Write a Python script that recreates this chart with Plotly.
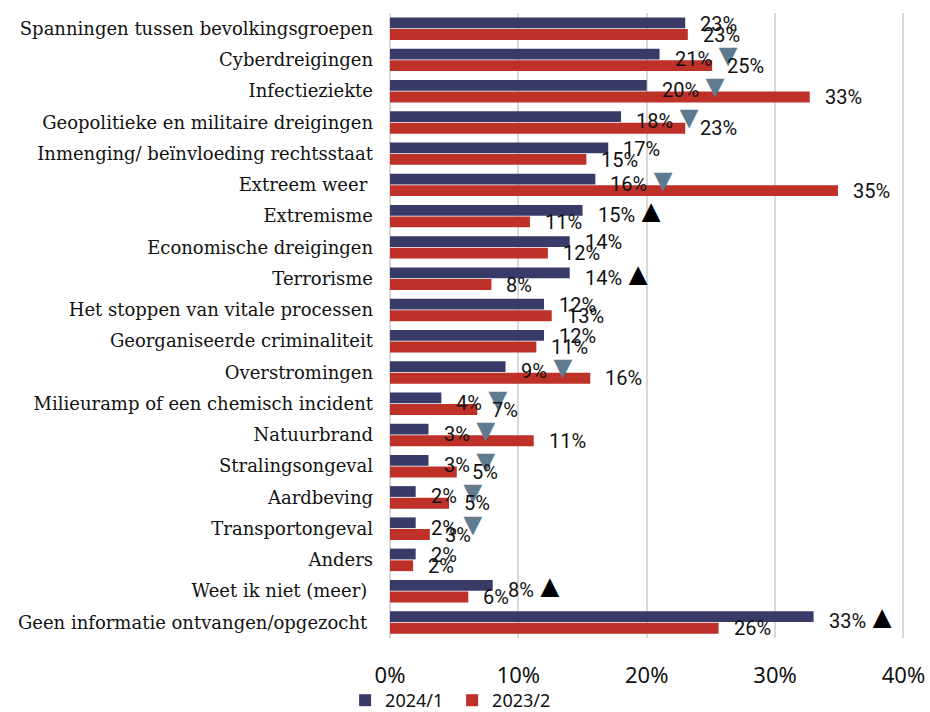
import plotly.graph_objects as go

categories = [
    "Spanningen tussen bevolkingsgroepen",
    "Cyberdreigingen",
    "Infectieziekte",
    "Geopolitieke en militaire dreigingen",
    "Inmenging/ beïnvloeding rechtsstaat",
    "Extreem weer ",
    "Extremisme",
    "Economische dreigingen",
    "Terrorisme",
    "Het stoppen van vitale processen",
    "Georganiseerde criminaliteit",
    "Overstromingen",
    "Milieuramp of een chemisch incident",
    "Natuurbrand",
    "Stralingsongeval",
    "Aardbeving",
    "Transportongeval",
    "Anders",
    "Weet ik niet (meer) ",
    "Geen informatie ontvangen/opgezocht ",
]
values_2024_1 = [23, 21, 20, 18, 17, 16, 15, 14, 14, 12, 12, 9, 4, 3, 3, 2, 2, 2, 8, 33]
values_2023_2 = [23.2, 25.1, 32.7, 23.0, 15.3, 34.9, 10.9, 12.3, 7.9, 12.6, 11.4, 15.6,
                 6.8, 11.2, 5.2, 4.6, 3.1, 1.8, 6.1, 25.6]
# trend of 2024/1 vs 2023/2: "down", "up" or ""
trend = ["", "down", "down", "down", "", "down", "up", "", "up", "", "",
         "down", "down", "down", "down", "down", "down", "", "up", "up"]
x_ticks = [0, 10, 20, 30, 40]

NAVY = "#383B68"
RED = "#BE3128"
STEEL = "#5F7B90"

idx = list(range(len(categories)))

fig = go.Figure()
fig.add_bar(y=idx, x=values_2024_1, orientation="h", name="2024/1",
            marker=dict(color=NAVY, line=dict(width=0)))
fig.add_bar(y=idx, x=values_2023_2, orientation="h", name="2023/2",
            marker=dict(color=RED, line=dict(width=0)))

annotations = []
for i, (a, b, t) in enumerate(zip(values_2024_1, values_2023_2, trend)):
    txt = f"{round(a)}%"
    if t == "down":
        txt += f"<span style='color:{STEEL};font-size:32px'>▼</span>"
    elif t == "up":
        txt += "<span style='color:#000000;font-size:32px'>▲</span>"
    annotations.append(dict(x=a, y=i, xref="x", yref="y", text=txt, showarrow=False,
                            xanchor="left", yanchor="middle", xshift=13, yshift=5,
                            font=dict(family="Roboto", size=20, color="#111111")))
    annotations.append(dict(x=b, y=i, xref="x", yref="y", text=f"{round(b)}%", showarrow=False,
                            xanchor="left", yanchor="middle", xshift=13, yshift=-6,
                            font=dict(family="Roboto", size=20, color="#111111")))

fig.update_layout(
    width=930, height=712,
    margin=dict(l=390, r=24, t=13, b=74, autoexpand=False),
    paper_bgcolor="white", plot_bgcolor="white",
    barmode="group", bargap=0.25, bargroupgap=0.08,
    showlegend=True,
    legend=dict(orientation="h", x=-0.087, xanchor="left", y=-0.1, yanchor="middle",
                font=dict(family="Noto Sans", size=18, color="#111111"),
                traceorder="normal", entrywidth=62, bgcolor="rgba(0,0,0,0)"),
    annotations=annotations,
)
fig.update_xaxes(range=[0, 40.2], tickvals=x_ticks, ticktext=[f"{v}%" for v in x_ticks],
                 showgrid=True, gridcolor="#D9D9D9", gridwidth=2,
                 zeroline=True, zerolinecolor="#D9D9D9", zerolinewidth=2,
                 showline=False, ticks="", ticklabelstandoff=22, automargin=False,
                 tickfont=dict(family="Noto Sans", size=22, color="#111111"), fixedrange=True)
fig.update_yaxes(range=[19.5, -0.5], tickvals=idx, ticktext=categories, showgrid=False,
                 zeroline=False, ticks="", ticklabelstandoff=16, automargin=False,
                 tickfont=dict(family="DejaVu Serif", size=18, color="#111111"), fixedrange=True)

fig.write_html("out.html", config={"displayModeBar": False},
               post_script="document.body.style.margin='0px';")
